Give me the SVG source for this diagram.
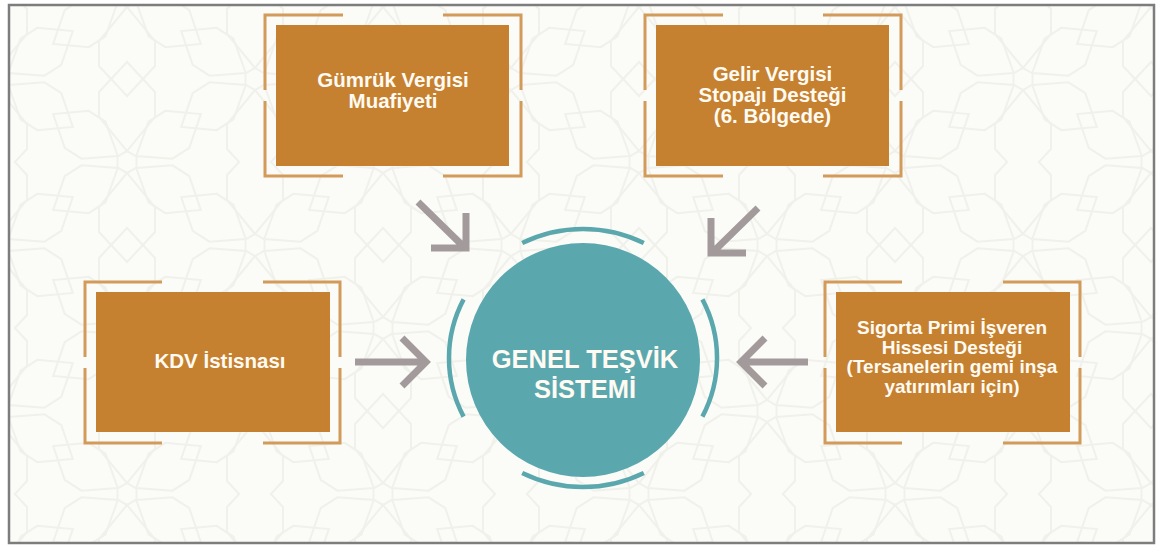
<svg xmlns="http://www.w3.org/2000/svg" width="1163" height="545" viewBox="0 0 1163 545">
<style>
.box{fill:#c5812f}
.brk{fill:none;stroke:#d39b5a;stroke-width:3}
.lbl{font-family:"Liberation Sans",Arial,sans-serif;font-weight:bold;fill:#fffaf2;text-anchor:middle}
.arr{fill:none;stroke:#a39b9b;stroke-width:7;stroke-linejoin:miter}
.ring{fill:none;stroke:#5aa8ae;stroke-width:4.5}
.pat{fill:none;stroke:#f1f1ec;stroke-width:2}
</style>
<defs>
<g id="ros">
<polygon class="pat" points="0,-11 9.5,-5.5 9.5,5.5 0,11 -9.5,5.5 -9.5,-5.5"/>
<polygon class="pat" points="0,-11 -28,-45 -28,-70 0,-100 28,-70 28,-45"/>
<polygon class="pat" points="0,11 -28,45 -28,70 0,100 28,70 28,45"/>
<g transform="rotate(-57)"><polygon class="pat" points="0,-11 -22,-40 -22,-60 0,-88 22,-60 22,-40"/></g>
<g transform="rotate(57)"><polygon class="pat" points="0,-11 -22,-40 -22,-60 0,-88 22,-60 22,-40"/></g>
<g transform="rotate(123)"><polygon class="pat" points="0,-11 -22,-40 -22,-60 0,-88 22,-60 22,-40"/></g>
<g transform="rotate(-123)"><polygon class="pat" points="0,-11 -22,-40 -22,-60 0,-88 22,-60 22,-40"/></g>
</g>
<pattern id="bgp" patternUnits="userSpaceOnUse" x="127" y="162" width="256" height="166">
<rect width="256" height="166" fill="#fbfbf8"/>
<use href="#ros" x="0" y="0"/>
<use href="#ros" x="256" y="0"/>
<use href="#ros" x="0" y="166"/>
<use href="#ros" x="256" y="166"/>
<use href="#ros" x="128" y="83"/>
</pattern>
</defs>
<rect width="1163" height="545" fill="#ffffff"/>
<rect x="9" y="5" width="1145" height="538" fill="url(#bgp)" stroke="#7d7d7d" stroke-width="2.5"/>

<g id="connectors">
<path class="arr" d="M418,202 L465,248 M431,248 L466,248 L466,213"/>
<path class="arr" d="M758,208 L712,253 M746,253 L711,253 L711,218"/>
<path class="arr" d="M355,362 L426,362 M402,338 L426,362 L402,386"/>
<path class="arr" d="M808,362 L741,362 M765,338 L741,362 L765,386"/>
</g>

<g id="center">
<path class="ring" d="M522.2,243.1 A134,129 0 0 1 643.8,243.1 M702.4,299.4 A134,129 0 0 1 702.4,416.6 M643.8,472.9 A134,129 0 0 1 522.2,472.9 M463.6,416.6 A134,129 0 0 1 463.6,299.4"/>
<circle cx="583" cy="360" r="117" fill="#5aa8ae"/>
<text class="lbl" x="585" y="368" font-size="25.5">GENEL TEŞVİK</text>
<text class="lbl" x="585" y="398" font-size="25.5">SİSTEMİ</text>
</g>

<g id="gumruk">
<path class="brk" d="M265,90 V15 H343 M443,15 H521 V90 M521,101 V176 H443 M343,176 H265 V101"/>
<rect class="box" x="276" y="25" width="233" height="141"/>
<text class="lbl" x="393" y="87" font-size="20.5">Gümrük Vergisi</text>
<text class="lbl" x="393" y="108" font-size="20.5">Muafiyeti</text>
</g>

<g id="gelir">
<path class="brk" d="M645,90 V15 H723 M823,15 H901 V90 M901,101 V176 H823 M723,176 H645 V101"/>
<rect class="box" x="656" y="25" width="233" height="141"/>
<text class="lbl" x="772.5" y="81" font-size="20.5">Gelir Vergisi</text>
<text class="lbl" x="772.5" y="102" font-size="20.5">Stopajı Desteği</text>
<text class="lbl" x="772.5" y="123" font-size="20.5">(6. Bölgede)</text>
</g>

<g id="kdv">
<path class="brk" d="M85,357 V282 H162 M263,282 H340 V357 M340,368 V443 H263 M162,443 H85 V368"/>
<rect class="box" x="96" y="292" width="234" height="140"/>
<text class="lbl" x="220" y="368" font-size="20.5">KDV İstisnası</text>
</g>

<g id="sigorta">
<path class="brk" d="M825,357 V282 H902 M1003,282 H1080 V357 M1080,368 V443 H1003 M902,443 H825 V368"/>
<rect class="box" x="836" y="292" width="234" height="140"/>
<text class="lbl" x="952" y="334" font-size="19">Sigorta Primi İşveren</text>
<text class="lbl" x="952" y="353.5" font-size="19">Hissesi Desteği</text>
<text class="lbl" x="952" y="373" font-size="19">(Tersanelerin gemi inşa</text>
<text class="lbl" x="952" y="392.5" font-size="19">yatırımları için)</text>
</g>
</svg>
